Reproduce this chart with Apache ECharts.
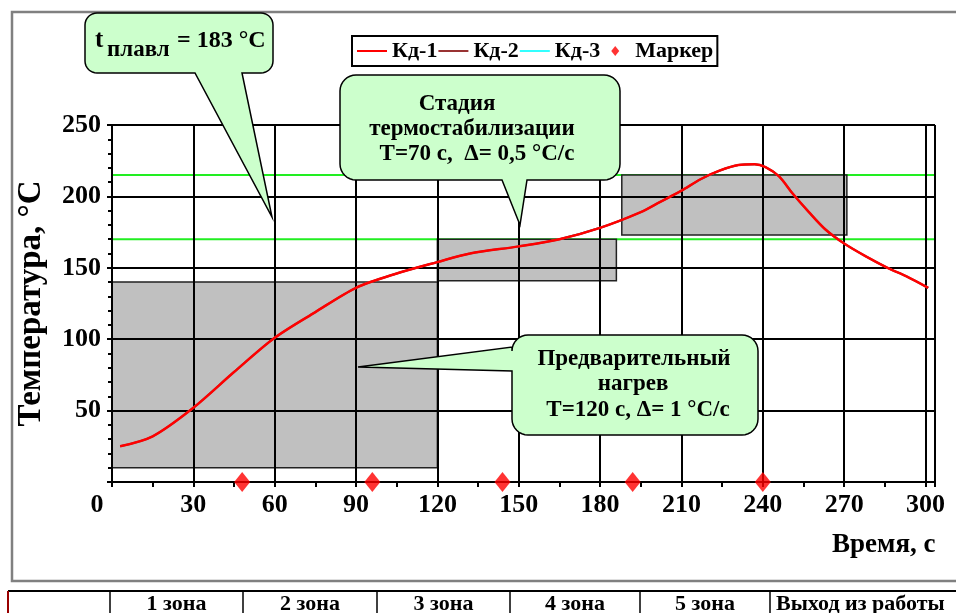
<!DOCTYPE html>
<html>
<head>
<meta charset="utf-8">
<script src="https://cdn.jsdelivr.net/npm/echarts@6/dist/echarts.min.js"></script>
<style>html,body{margin:0;padding:0;background:#fff}#c{width:956px;height:613px}</style>
</head>
<body>
<div id="c"></div>
<script>
// ---- data ----
var timeKd1 = [3, 15, 30, 45, 60, 75, 90, 105, 120, 132, 150, 165, 180, 195, 202, 210, 217, 224, 231, 237, 241, 246, 251, 257, 263, 270, 278, 286, 293, 301];
var tempKd1 = [25, 32, 52, 77, 101, 119, 136, 146, 154, 160, 165, 170, 178, 189, 196, 204, 212, 218, 222, 222.5, 220.5, 214, 202, 189, 177, 167, 158, 150, 144, 136];
var markerTimes = [48, 96, 144, 192, 240];
var markerTemps = [0, 0, 0, 0, 0];
// zones: [tStart, tEnd, tempLow, tempHigh]
var zones = [[0, 120, 10, 140], [120, 186, 141, 170], [188, 271, 173, 215]];
var limitTemps = [215, 170];
var limitEnds = [309, 307];
var xTicks = [0, 30, 60, 90, 120, 150, 180, 210, 240, 270, 300];
var yTicks = [50, 100, 150, 200, 250];
var tableCells = ['1 зона', '2 зона', '3 зона', '4 зона', '5 зона'];

var F = "'Liberation Serif','Times New Roman',serif";
function pairs(xs, ys) { return xs.map(function (x, i) { return [x, ys[i]]; }); }

function callout(x0, y0, x1, y1, r, tail) {
  var p = [];
  function arc(cx, cy, a0, a1) {
    for (var i = 0; i <= 8; i++) {
      var a = (a0 + (a1 - a0) * i / 8) * Math.PI / 180;
      p.push([cx + r * Math.cos(a), cy + r * Math.sin(a)]);
    }
  }
  arc(x1 - r, y0 + r, -90, 0);
  arc(x1 - r, y1 - r, 0, 90);
  if (tail.side === 'bottom') { p.push([tail.b, y1], tail.tip, [tail.a, y1]); }
  arc(x0 + r, y1 - r, 90, 180);
  if (tail.side === 'left') { p.push([x0, tail.b], tail.tip, [x0, tail.a]); }
  arc(x0 + r, y0 + r, 180, 270);
  return { type: 'polygon', z: 100, shape: { points: p }, style: { fill: '#ccffcc', stroke: '#000', lineWidth: 1.5 } };
}
function txt(t, x, y, size, align) {
  return { type: 'text', z: 101, x: x, y: y, style: { text: t, font: 'bold ' + size + 'px ' + F, fill: '#000', align: align || 'center', verticalAlign: 'middle' } };
}

var chart = echarts.init(document.getElementById('c'));
var axisLineStyle = { color: '#000', width: 2 };

var graphics = [
  { type: 'rect', z: 1, shape: { x: 12, y: 12, width: 960, height: 569 }, style: { fill: 'none', stroke: '#808080', lineWidth: 2.5 } },
  { type: 'line', z: 1, shape: { x1: 8, y1: 591, x2: 956, y2: 591 }, style: { stroke: '#000', lineWidth: 2 } },
  { type: 'line', z: 1, shape: { x1: 8, y1: 591, x2: 8, y2: 613 }, style: { stroke: '#990000', lineWidth: 2 } },
  callout(85, 13, 273, 73, 12, { side: 'bottom', a: 195, b: 242, tip: [272, 217] }),
  callout(340, 75, 620, 180, 16, { side: 'bottom', a: 502, b: 527, tip: [520, 225] }),
  callout(512, 335, 758, 435, 16, { side: 'left', a: 347, b: 371, tip: [358, 367] }),
  txt('t', 95, 41, 25, 'left'),
  txt('плавл', 107, 50, 23, 'left'),
  txt('= 183 °С', 177, 41, 24, 'left'),
  txt('Стадия', 457, 104, 23),
  txt('термостабилизации', 472, 129, 23),
  txt('T=70 с,  Δ= 0,5 °С/с', 477, 154, 23),
  txt('Предварительный', 634, 359, 23),
  txt('нагрев', 633, 384, 23),
  txt('T=120 с, Δ= 1 °С/с', 638, 410, 23),
  txt('Время, с', 832, 545, 27, 'left')
];
var cellX = [110, 243, 377, 510, 640, 770];
cellX.forEach(function (x) {
  graphics.push({ type: 'line', z: 1, shape: { x1: x, y1: 591, x2: x, y2: 613 }, style: { stroke: '#000', lineWidth: 1.5 } });
});
tableCells.forEach(function (t, i) {
  graphics.push(txt(t, (cellX[i] + cellX[i + 1]) / 2, 604, 22));
});
graphics.push(txt('Выход из работы', 776, 604, 22, 'left'));

var hideSym = { opacity: 0 };
var option = {
  animation: false,
  backgroundColor: '#fff',
  grid: { left: 112, top: 125, right: 21, bottom: 131 },
  legend: {
    data: [
      { name: 'Кд-1', itemStyle: hideSym },
      { name: 'Кд-2', itemStyle: hideSym },
      { name: 'Кд-3', itemStyle: hideSym },
      { name: 'Маркер', icon: 'path://M0,0M30,10M15,0L19,5L15,10L11,5Z' }
    ],
    left: 352, top: 36, orient: 'horizontal', itemGap: 0, itemWidth: 30, itemHeight: 10,
    padding: [4, 4, 4, 4], borderColor: '#000', borderWidth: 2, backgroundColor: '#fff',
    textStyle: { fontFamily: F, fontWeight: 'bold', fontSize: 22, color: '#000' }
  },
  xAxis: {
    type: 'value', min: 0, max: 303.5, interval: 30, z: 2,
    axisLine: { lineStyle: axisLineStyle },
    axisTick: { show: true, length: 5, lineStyle: axisLineStyle },
    minorTick: { show: true, splitNumber: 2, length: 5, lineStyle: axisLineStyle },
    splitLine: { show: true, lineStyle: axisLineStyle },
    axisLabel: {
      margin: 10, showMaxLabel: false, color: '#000', fontFamily: F, fontWeight: 'bold', fontSize: 26,
      formatter: function (v) { if (xTicks.indexOf(v) < 0) return ''; return v === 0 ? '{z|0}' : String(v); },
      rich: { z: { padding: [0, 30, 0, 0], fontFamily: F, fontWeight: 'bold', fontSize: 26, color: '#000' } }
    }
  },
  yAxis: {
    type: 'value', min: 0, max: 250, interval: 50, z: 2,
    name: 'Температура, °С', nameLocation: 'middle', nameGap: 64, nameRotate: 90,
    nameTextStyle: { fontFamily: F, fontWeight: 'bold', fontSize: 33, color: '#000' },
    axisLine: { show: true, lineStyle: axisLineStyle },
    axisTick: { show: true, length: 5, lineStyle: axisLineStyle },
    minorTick: { show: true, splitNumber: 5, length: 4, lineStyle: axisLineStyle },
    splitLine: { show: true, lineStyle: axisLineStyle },
    axisLabel: {
      margin: 11, color: '#000', fontFamily: F, fontWeight: 'bold', fontSize: 26,
      formatter: function (v) { return yTicks.indexOf(v) < 0 ? '' : String(v); }
    }
  },
  series: [
    {
      type: 'line', z: 0, silent: true, symbol: 'none', clip: false,
      data: [[0, limitTemps[0]], [limitEnds[0], limitTemps[0]]],
      lineStyle: { color: '#22ee22', width: 2 }
    },
    {
      type: 'line', z: 0, silent: true, symbol: 'none', clip: false,
      data: [[0, limitTemps[1]], [limitEnds[1], limitTemps[1]]],
      lineStyle: { color: '#22ee22', width: 2 }
    },
    {
      type: 'line', z: 1, silent: true, symbol: 'none', data: [],
      markArea: {
        silent: true, z: 1,
        itemStyle: { color: '#c0c0c0', borderColor: '#222', borderWidth: 1.5 },
        data: zones.map(function (zn) { return [{ coord: [zn[0], zn[2]] }, { coord: [zn[1], zn[3]] }]; })
      }
    },
    { name: 'Кд-3', type: 'line', z: 3, symbol: 'none', smooth: 0.3, data: pairs(timeKd1, tempKd1), lineStyle: { color: '#33ffff', width: 2 }, itemStyle: { color: '#33ffff' } },
    { name: 'Кд-2', type: 'line', z: 3, symbol: 'none', smooth: 0.3, data: pairs(timeKd1, tempKd1), lineStyle: { color: '#993333', width: 2 }, itemStyle: { color: '#993333' } },
    { name: 'Кд-1', type: 'line', z: 4, symbol: 'none', smooth: 0.3, data: pairs(timeKd1, tempKd1), lineStyle: { color: '#ff0000', width: 2.5 }, itemStyle: { color: '#ff0000' } },
    {
      name: 'Маркер', type: 'scatter', z: 5, clip: false, symbol: 'diamond', symbolSize: [16, 20],
      data: pairs(markerTimes, markerTemps), itemStyle: { color: '#ff0000' }
    }
  ],
  graphic: graphics
};
chart.setOption(option);
</script>
</body>
</html>
